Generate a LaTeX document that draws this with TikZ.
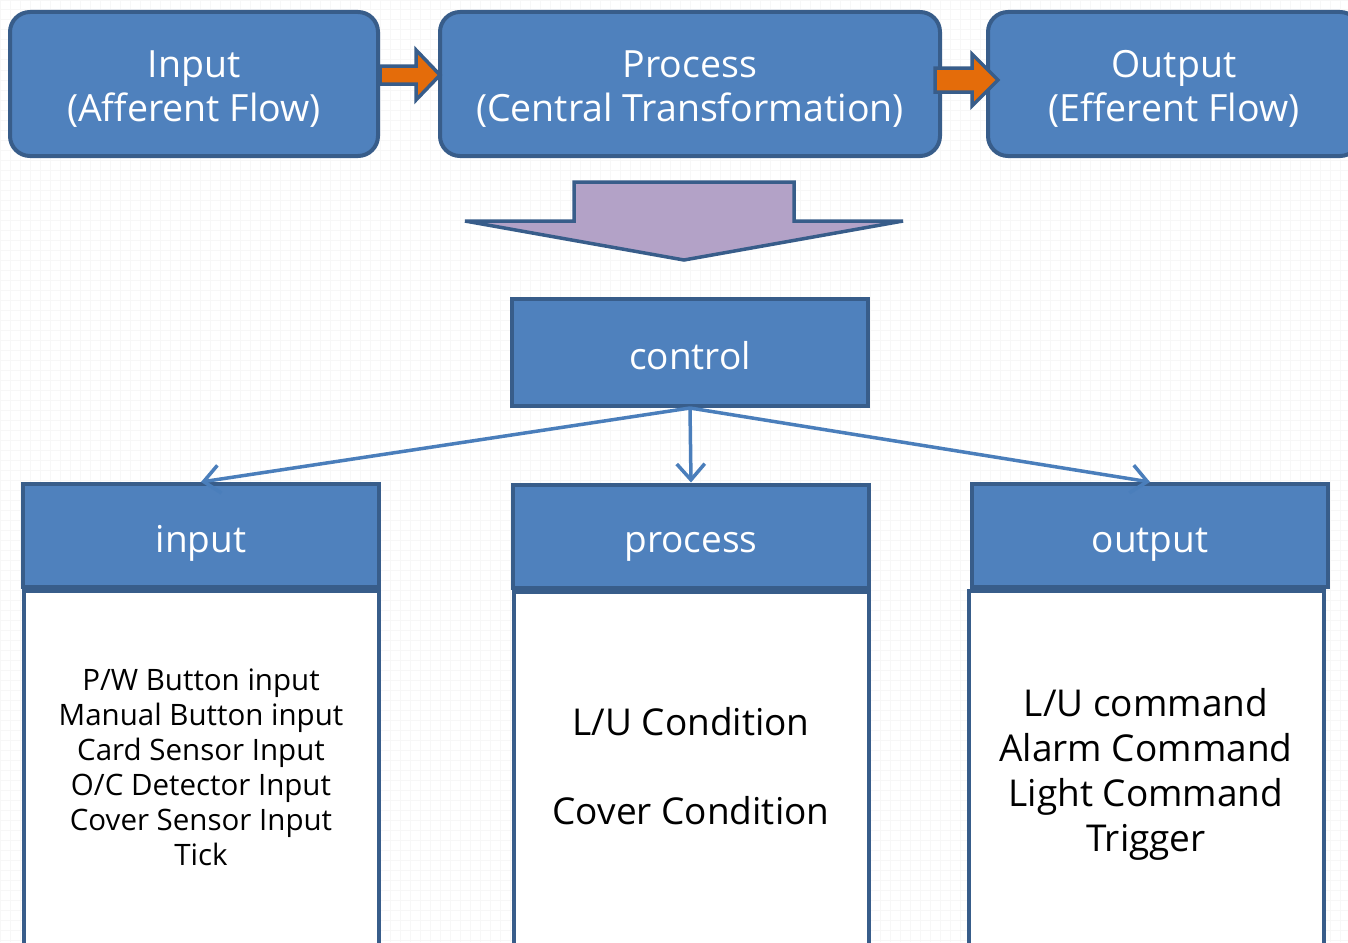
\documentclass[tikz,border=0pt]{standalone}
\usepackage{fontspec}
\setmainfont{Open Sans}
\usetikzlibrary{arrows.meta}

\definecolor{boxblue}{HTML}{4F81BD}
\definecolor{boxedge}{HTML}{385D8A}
\definecolor{linkblue}{HTML}{4A7EBB}
\definecolor{floworange}{HTML}{E46C0A}
\definecolor{bigarrow}{HTML}{B3A2C7}

\begin{document}
\begin{tikzpicture}[x=1pt, y=-1pt,
    topbox/.style={draw=boxedge, fill=boxblue, line width=4pt, rounded corners=20pt,
      inner sep=0pt, minimum height=144pt},
    toptext/.style={text=white, align=center, yshift=-5pt, font=\fontsize{37.5}{44}\selectfont},
    headbox/.style={draw=boxedge, fill=boxblue, line width=4pt, text=white, inner sep=0pt,
      text height=35pt, text depth=2pt,
      minimum width=356pt, minimum height=103pt, font=\fontsize{37}{44}\selectfont},
    bodybox/.style={draw=boxedge, fill=white, line width=4pt, anchor=north,
      inner sep=0pt, minimum width=355pt, minimum height=360pt},
    bodytext/.style={align=center, font=\fontsize{37}{45}\selectfont},
    link/.style={linkblue, line width=3.5pt, -{Straight Barb[length=16pt, width=28pt]}},
    blockarrow/.style={draw=boxedge, line width=3.5pt, line join=miter}]
    \useasboundingbox (0, 0) rectangle (1348, 942);
    \clip (0, 0) rectangle (1348, 942);
    \fill [white] (0, 0) rectangle (1348, 942);
    \draw [black!3, line width=1pt, step=10pt] (0, 0) grid (1348, 942);

    % top row
    \node [topbox, minimum width=368pt, label={[toptext]center:Input\\(Afferent Flow)}] (inflow) at (194, 84) {};
    \node [topbox, minimum width=500pt, label={[toptext]center:Process\\(Central Transformation)}] (centtrans) at (690, 84) {};
    \node [topbox, minimum width=372pt, label={[toptext]center:Output\\(Efferent Flow)}] (outflow) at (1174, 84) {};

    \draw [blockarrow, fill=floworange] (380, 66) -- (416, 66) -- (416, 50) -- (440, 75)
      -- (416, 100) -- (416, 84) -- (380, 84) -- cycle;
    \draw [blockarrow, fill=floworange] (935, 68) -- (972, 68) -- (972, 54) -- (998, 80)
      -- (972, 106) -- (972, 92) -- (935, 92) -- cycle;

    \draw [blockarrow, fill=bigarrow] (574, 182) -- (794, 182) -- (794, 221) -- (903, 221)
      -- (684, 260) -- (465, 221) -- (574, 221) -- cycle;

    % structure chart
    \node [headbox, minimum height=107pt] (ctrl) at (690, 352.5) {control};

    \node [headbox] (inhead) at (201, 535.5) {input};
    \node [headbox] (prochead) at (691, 536) {process};
    \node [headbox] (outhead) at (1150, 535.5) {output};

    \node [bodybox, label={[bodytext, yshift=4pt, font=\fontsize{29.5}{35}\selectfont]center:P/W Button input\\Manual Button input\\Card Sensor Input\\O/C Detector Input\\Cover Sensor Input\\Tick}]
      (inbody) at (inhead.south) {};
    \node [bodybox, label={[bodytext, yshift=5pt]center:L/U Condition\\[44pt]Cover Condition}]
      (procbody) at (prochead.south) {};
    \node [bodybox, label={[bodytext, yshift=-3pt]center:L/U command\\Alarm Command\\Light Command\\Trigger}]
      (outbody) at ([xshift=-4pt]outhead.south) {};

    \draw [link] (ctrl.south) -- (inhead.north);
    \draw [link] (ctrl.south) -- (prochead.north);
    \draw [link] (ctrl.south) -- (outhead.north);
  \end{tikzpicture}
\end{document}
